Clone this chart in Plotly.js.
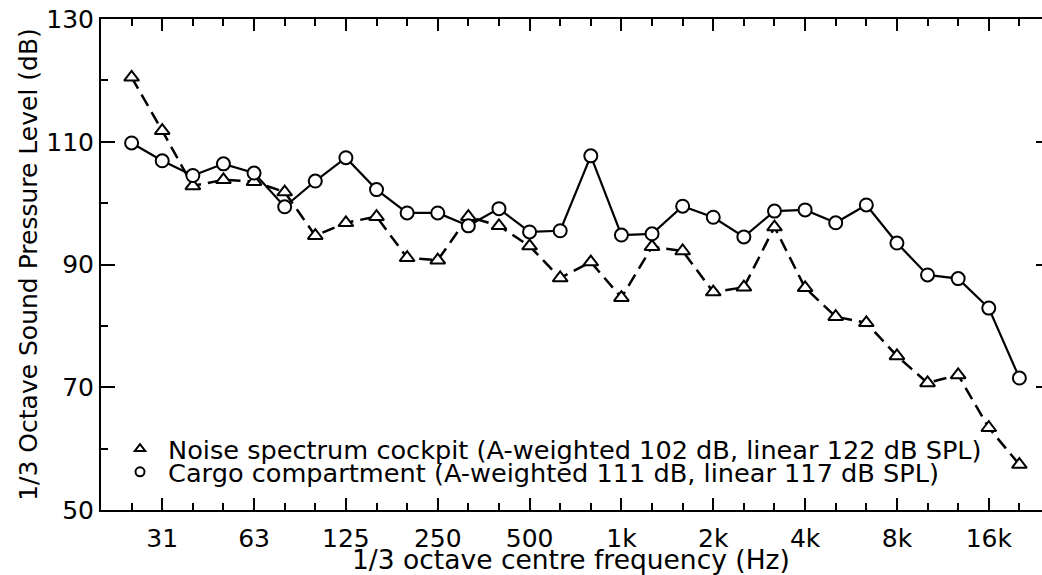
<!DOCTYPE html>
<html>
<head>
<meta charset="utf-8">
<script src="https://cdn.plot.ly/plotly-3.0.1.min.js"></script>
<style>
html,body{margin:0;padding:0;background:#fff;overflow:hidden;width:1042px;height:575px;}
#chart{width:1060px;height:575px;}
</style>
</head>
<body>
<div id="chart"></div>
<script>
// 1/3 octave bands (nominal centre frequencies)
const bands = ['25','31.5','40','50','63','80','100','125','160','200','250','315','400','500','630','800','1k','1.25k','1.6k','2k','2.5k','3.15k','4k','5k','6.3k','8k','10k','12.5k','16k','20k'];
// Noise spectrum cockpit (dB)
const cockpit = [120.5,111.8,102.8,103.8,103.5,101.8,94.7,96.8,97.8,91.1,90.7,97.8,96.3,93.0,87.8,90.4,84.6,92.9,92.2,85.5,86.3,96.1,86.2,81.5,80.5,75.1,70.7,72.0,63.4,57.4];
// Cargo compartment (dB)
const cargo = [109.8,106.9,104.5,106.4,104.9,99.4,103.6,107.4,102.2,98.4,98.4,96.3,99.1,95.3,95.5,107.7,94.8,95.0,99.5,97.7,94.5,98.7,98.9,96.8,99.7,93.5,88.3,87.7,82.9,71.5];
// labelled x ticks
const tickBands = ['31.5','63','125','250','500','1k','2k','4k','8k','16k'];
const tickLabels = ['31','63','125','250','500','1k','2k','4k','8k','16k'];
const yTicks = [50,70,90,110,130];

const nameCockpit = 'Noise spectrum cockpit (A-weighted 102 dB, linear 122 dB SPL)';
const nameCargo = 'Cargo compartment (A-weighted 111 dB, linear 117 dB SPL)';
const xTitle = '1/3 octave centre frequency (Hz)';
const yTitle = '1/3 Octave Sound Pressure Level (dB)';

const xIdx = bands.map((b, i) => i);
const FONT = 'DejaVu Sans, Liberation Sans, sans-serif';

const traces = [
  {
    x: xIdx, y: cockpit, mode: 'lines+markers', showlegend: false,
    line: {color: '#000', width: 2.5, dash: '13px,7px'},
    marker: {symbol: 'triangle-up', size: 13, color: '#fff', line: {color: '#000', width: 2}}
  },
  {
    x: xIdx, y: cargo, mode: 'lines+markers', showlegend: false,
    line: {color: '#000', width: 2.2},
    marker: {symbol: 'circle', size: 13, color: '#fff', line: {color: '#000', width: 2}}
  },
  {
    x: [null], y: [null], mode: 'markers', name: nameCockpit, legend: 'legend',
    marker: {symbol: 'triangle-up', size: 9, color: '#fff', line: {color: '#000', width: 2}}
  },
  {
    x: [null], y: [null], mode: 'markers', name: nameCargo, legend: 'legend2',
    marker: {symbol: 'circle', size: 9, color: '#fff', line: {color: '#000', width: 2}}
  }
];

const axisCommon = {
  showline: true, linecolor: '#000', linewidth: 2, mirror: 'ticks',
  ticks: 'inside', tickcolor: '#000', tickwidth: 2,
  showgrid: false, zeroline: false,
  tickfont: {family: FONT, size: 25, color: '#000'}
};

const layout = {
  width: 1060, height: 575,
  margin: {l: 101, r: 10, t: 19, b: 65},
  paper_bgcolor: '#fff', plot_bgcolor: '#fff',
  font: {family: FONT, color: '#000'},
  xaxis: Object.assign({}, axisCommon, {
    range: [-1, bands.length],
    tickmode: 'array',
    tickvals: tickBands.map(b => bands.indexOf(b)),
    ticktext: tickLabels,
    ticklen: 12,
    ticklabelstandoff: 5,
    minor: {ticks: 'inside', ticklen: 7, tickwidth: 2, tickcolor: '#000', tickmode: 'linear', tick0: 0, dtick: 1, showgrid: false}
  }),
  yaxis: Object.assign({}, axisCommon, {
    range: [50, 130],
    tickmode: 'array',
    tickvals: yTicks,
    ticklen: 14,
    minor: {ticks: 'inside', ticklen: 7, tickwidth: 2, tickcolor: '#000', tickmode: 'linear', tick0: 50, dtick: 10, showgrid: false},
    title: {text: yTitle, font: {family: FONT, size: 25, color: '#000'}, standoff: 2}
  }),
  annotations: [{
    text: xTitle, xref: 'paper', yref: 'paper', x: 0.495, y: -0.100,
    xanchor: 'center', yanchor: 'middle', showarrow: false,
    font: {family: FONT, size: 26.5, color: '#000'}
  }],
  legend: {x: 0.0116, y: 0.124, xanchor: 'left', yanchor: 'middle', itemwidth: 46,
    bgcolor: 'rgba(0,0,0,0)', font: {family: FONT, size: 25.6, color: '#000'}},
  legend2: {x: 0.0116, y: 0.077, xanchor: 'left', yanchor: 'middle', itemwidth: 46,
    bgcolor: 'rgba(0,0,0,0)', font: {family: FONT, size: 25.6, color: '#000'}}
};

Plotly.newPlot('chart', traces, layout, {displayModeBar: false, staticPlot: true});
</script>
</body>
</html>
